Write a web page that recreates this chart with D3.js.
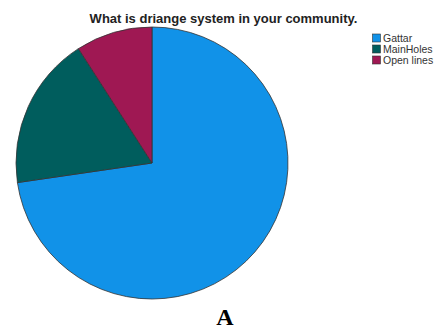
<!DOCTYPE html>
<html>
<head>
<meta charset="utf-8">
<script src="https://cdn.jsdelivr.net/npm/d3@7"></script>
<style>
  html, body { margin: 0; padding: 0; background: #fff; }
  svg { display: block; }
</style>
</head>
<body>
<svg id="chart" width="435" height="329"></svg>
<script>
// data
const categories = ["Gattar", "MainHoles", "Open lines"];
const values = [72.7, 18.2, 9.1];
const colors = ["#1192e8", "#005d5d", "#9f1853"];

const svg = d3.select("#chart");
const cx = 152, cy = 163, r = 136;

svg.append("text")
  .attr("x", 223.5).attr("y", 23)
  .attr("text-anchor", "middle")
  .style("font", "bold 13px 'Liberation Sans', Arial, sans-serif")
  .style("fill", "#222")
  .text("What is driange system in your community.");

const pie = d3.pie().sort(null).value(d => d.v);
const arc = d3.arc().innerRadius(0).outerRadius(r);
const data = categories.map((c, i) => ({ c, v: values[i], col: colors[i] }));

const g = svg.append("g").attr("transform", `translate(${cx},${cy})`);
g.selectAll("path")
  .data(pie(data))
  .enter().append("path")
  .attr("d", arc)
  .attr("fill", d => d.data.col)
  .attr("stroke", "#333")
  .attr("stroke-width", 0.8)
  .attr("stroke-linejoin", "round");

// legend
const leg = svg.append("g").attr("transform", "translate(372.5,34)");
const rows = leg.selectAll("g")
  .data(data)
  .enter().append("g")
  .attr("transform", (d, i) => `translate(0,${i * 11})`);
rows.append("rect")
  .attr("width", 8).attr("height", 8)
  .attr("fill", d => d.col)
  .attr("stroke", "#333").attr("stroke-width", 0.6);
rows.append("text")
  .attr("x", 10.5).attr("y", 8)
  .style("font", "10.5px 'Liberation Sans', Arial, sans-serif")
  .style("fill", "#333")
  .text(d => d.c);

svg.append("text")
  .attr("x", 225).attr("y", 325)
  .attr("text-anchor", "middle")
  .style("font", "bold 24px 'Liberation Serif', 'Times New Roman', serif")
  .style("fill", "#000")
  .text("A");
</script>
</body>
</html>
